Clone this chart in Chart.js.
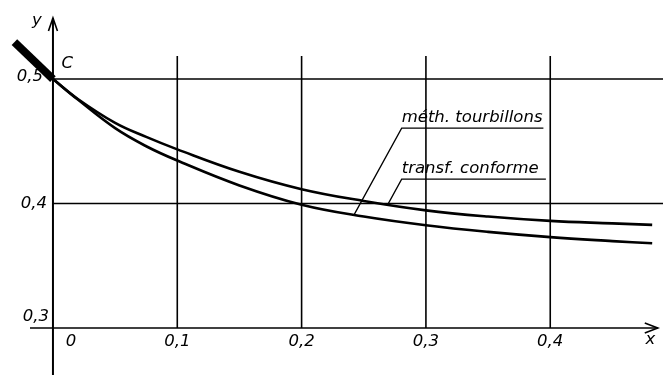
<!DOCTYPE html>
<html>
<head>
<meta charset="utf-8">
<script src="https://cdn.jsdelivr.net/npm/chart.js@4/dist/chart.umd.min.js"></script>
<style>
html,body{margin:0;padding:0;background:#fff;}
#wrap{position:relative;width:663px;height:375px;}
</style>
</head>
<body>
<div id="wrap"><canvas id="c"></canvas></div>
<script>
// ---- data ----
const xValues = [0, 0.02, 0.05, 0.075, 0.1, 0.15, 0.2, 0.25, 0.3, 0.35, 0.4, 0.45, 0.482];
const transfConforme = [0.5, 0.484, 0.4648, 0.4535, 0.4435, 0.4255, 0.4115, 0.402, 0.3945, 0.3895, 0.386, 0.384, 0.3828];
const methTourbillons = [0.5, 0.4835, 0.4605, 0.446, 0.4345, 0.4145, 0.399, 0.3895, 0.3825, 0.3772, 0.373, 0.3698, 0.368];
const wallX = [-0.031, 0];
const wallY = [0.5297, 0.5];
const xTicks = [0, 0.1, 0.2, 0.3, 0.4];
const xTickLabels = ['0', '0,1', '0,2', '0,3', '0,4'];
const yTicks = [0.5, 0.4, 0.3];
const yTickLabels = ['0,5', '0,4', '0,3'];
const seriesNames = ['méth. tourbillons', 'transf. conforme'];

const toPts = (xs, ys) => xs.map((x, i) => ({x: x, y: ys[i]}));
const INK = '#000';
const FONT = 'oblique 16.5px "DejaVu Sans", sans-serif';

const drawingPlugin = {
  id: 'drawing',
  beforeDatasetsDraw(chart) {
    const ctx = chart.ctx, xs = chart.scales.x, ys = chart.scales.y;
    const X = v => xs.getPixelForValue(v), Y = v => ys.getPixelForValue(v);
    ctx.save();
    ctx.strokeStyle = INK;
    ctx.lineCap = 'butt';
    // vertical grid lines
    ctx.lineWidth = 1.6;
    xTicks.forEach(t => {
      if (t === 0) return;
      ctx.beginPath();
      ctx.moveTo(X(t), Y(0.5185));
      ctx.lineTo(X(t), Y(0.3));
      ctx.stroke();
    });
    // horizontal grid lines
    yTicks.forEach(t => {
      if (t === 0.3) return;
      ctx.beginPath();
      ctx.moveTo(X(0), Y(t));
      ctx.lineTo(chart.chartArea.right, Y(t));
      ctx.stroke();
    });
    // x axis with arrow
    ctx.lineWidth = 1.6;
    ctx.beginPath();
    ctx.moveTo(X(-0.0185), Y(0.3));
    ctx.lineTo(X(0.4865), Y(0.3));
    ctx.stroke();
    const ax = X(0.4865), ay = Y(0.3);
    ctx.beginPath();
    ctx.moveTo(ax - 13, ay - 5);
    ctx.lineTo(ax, ay);
    ctx.lineTo(ax - 13, ay + 5);
    ctx.stroke();
    // y axis with arrow
    ctx.lineWidth = 2;
    ctx.beginPath();
    ctx.moveTo(X(0), chart.chartArea.bottom);
    ctx.lineTo(X(0), Y(0.5490));
    ctx.stroke();
    const bx = X(0), by = Y(0.5490);
    ctx.lineWidth = 1.6;
    ctx.beginPath();
    ctx.moveTo(bx - 4.5, by + 13);
    ctx.lineTo(bx, by);
    ctx.lineTo(bx + 4.5, by + 13);
    ctx.stroke();

    // tick labels
    ctx.fillStyle = INK;
    ctx.font = FONT;
    ctx.textBaseline = 'middle';
    ctx.textAlign = 'center';
    xTicks.forEach((t, i) => {
      const dx = t === 0 ? 18 : 0;
      ctx.fillText(xTickLabels[i], X(t) + dx, Y(0.3) + 14);
    });
    ctx.textAlign = 'right';
    yTicks.forEach((t, i) => {
      const dy = t === 0.3 ? -11 : (t === 0.5 ? -2 : 0);
      const dx = t === 0.5 ? -10 : (t === 0.4 ? -6 : -4);
      ctx.fillText(yTickLabels[i], X(0) + dx, Y(t) + dy);
    });
    // axis names and point label
    ctx.textAlign = 'center';
    ctx.fillText('x', X(0.4805), Y(0.3) + 12);
    ctx.fillText('y', X(-0.013), Y(0.5465));
    ctx.fillText('C', X(0.0115), Y(0.5125));

    // series annotations with leader lines
    ctx.lineWidth = 1.3;
    ctx.textAlign = 'left';
    ctx.textBaseline = 'alphabetic';
    // méth. tourbillons (lower curve)
    ctx.fillText(seriesNames[0], X(0.2805), Y(0.4655));
    ctx.beginPath();
    ctx.moveTo(X(0.2425), Y(0.3915));
    ctx.lineTo(X(0.2805), Y(0.4606));
    ctx.lineTo(X(0.3945), Y(0.4606));
    ctx.stroke();
    // transf. conforme (upper curve)
    ctx.fillText(seriesNames[1], X(0.2805), Y(0.4245));
    ctx.beginPath();
    ctx.moveTo(X(0.2695), Y(0.3995));
    ctx.lineTo(X(0.2805), Y(0.4195));
    ctx.lineTo(X(0.3965), Y(0.4195));
    ctx.stroke();
    ctx.restore();
  }
};

new Chart(document.getElementById('c'), {
  type: 'scatter',
  data: {
    datasets: [
      {label: seriesNames[1], data: toPts(xValues, transfConforme), showLine: true,
       borderColor: INK, borderWidth: 2.6, pointRadius: 0, tension: 0.4, fill: false, clip: false},
      {label: seriesNames[0], data: toPts(xValues, methTourbillons), showLine: true,
       borderColor: INK, borderWidth: 2.6, pointRadius: 0, tension: 0.4, fill: false, clip: false},
      {label: 'C', data: toPts(wallX, wallY), showLine: true,
       borderColor: INK, borderWidth: 8, borderCapStyle: 'butt', pointRadius: 0, fill: false, clip: false}
    ]
  },
  options: {
    responsive: true,
    maintainAspectRatio: false,
    animation: false,
    layout: {padding: 0},
    plugins: {legend: {display: false}, tooltip: {enabled: false}},
    scales: {
      x: {type: 'linear', display: false, min: -0.0426, max: 0.4907},
      y: {type: 'linear', display: false, min: 0.2622, max: 0.5635}
    }
  },
  plugins: [drawingPlugin]
});
</script>
</body>
</html>
